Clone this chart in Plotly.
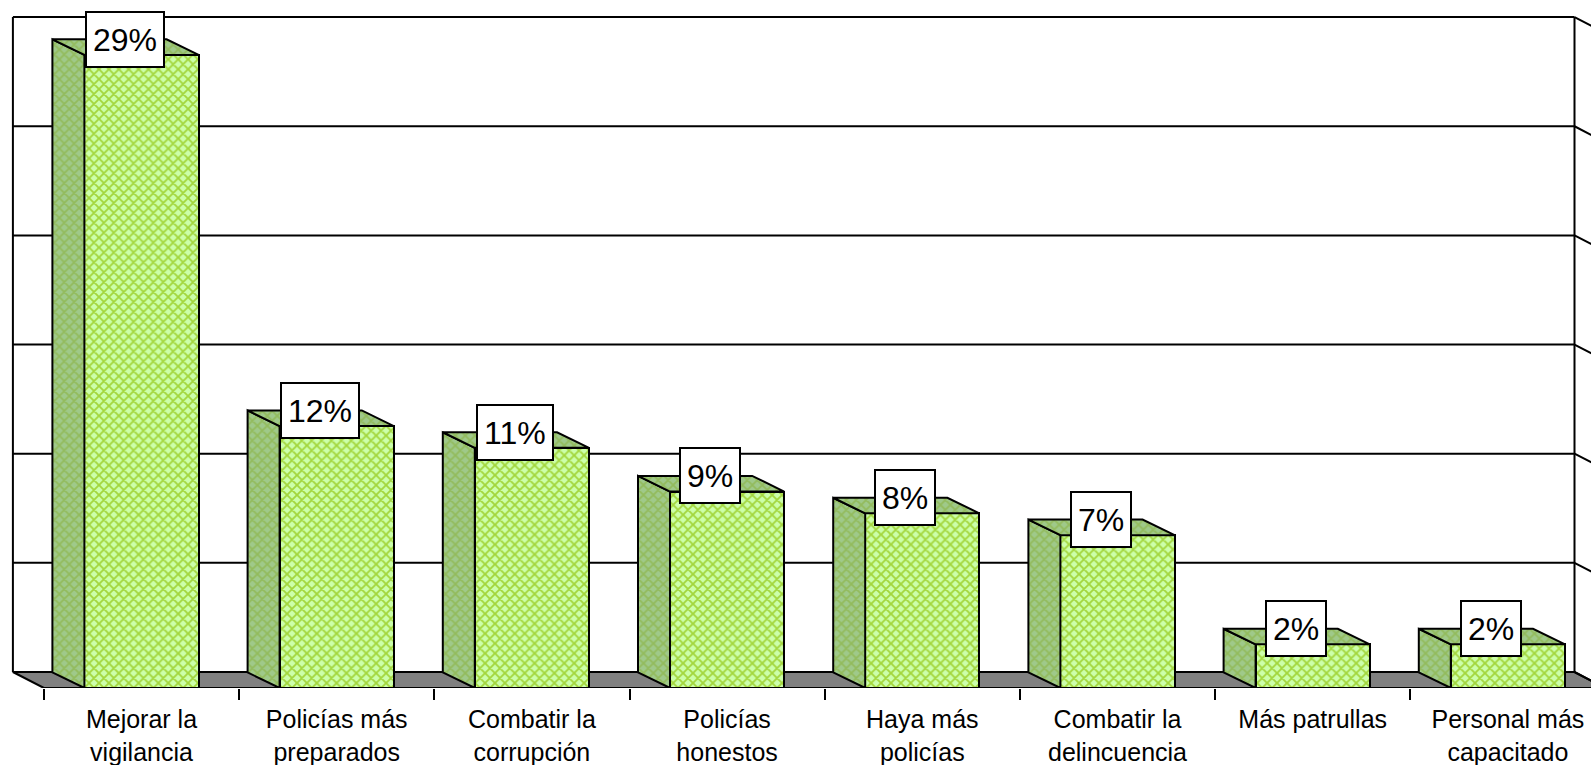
import plotly.graph_objects as go

categories = ["Mejorar la<br>vigilancia", "Policías más<br>preparados", "Combatir la<br>corrupción",
              "Policías<br>honestos", "Haya más<br>policías", "Combatir la<br>delincuencia",
              "Más patrullas<br> ", "Personal más<br>capacitado"]
values = [29, 12, 11, 9, 8, 7, 2, 2]
grid_values = [0, 5, 10, 15, 20, 25, 30]

PX_X = 195.2
PX_Y = 21.83
X0 = 141.5
Y0 = 688
W, H = 1591, 765
BAR_W = 0.585
BAR_DX = 32 / PX_X
BAR_DY = 15.6 / PX_Y
WALL_DX = 31 / PX_X
WALL_DY = 16 / PX_Y
LEFT = -0.5
RIGHT = 7.5

xrange_ = [(0 - X0) / PX_X, (W - X0) / PX_X]
yrange_ = [0, Y0 / PX_Y]
positions = list(range(len(values)))

DARK = dict(bgcolor="#9FC98A", fgcolor="#86AD2E", shape="x", size=7, solidity=0.45)

fig = go.Figure()

fig.add_bar(x=positions, y=values, width=BAR_W,
            marker=dict(color="#CCFFAA", line=dict(color="black", width=2),
                        pattern=dict(shape="x", size=7, solidity=0.45, fgcolor="#A3D63C",
                                     bgcolor="#CCFFAA", fillmode="replace")),
            hoverinfo="skip", showlegend=False)

for p, v in zip(positions, values):
    l, r = p - BAR_W / 2, p + BAR_W / 2
    fig.add_scatter(x=[l, l - BAR_DX, l - BAR_DX, l, l], y=[0, BAR_DY, v + BAR_DY, v, 0],
                    mode="lines", fill="toself", fillcolor="#9FC98A",
                    fillpattern=DARK, line=dict(color="black", width=2),
                    hoverinfo="skip", showlegend=False)
    fig.add_scatter(x=[l, l - BAR_DX, r - BAR_DX, r, l], y=[v, v + BAR_DY, v + BAR_DY, v, v],
                    mode="lines", fill="toself", fillcolor="#9FC98A",
                    fillpattern=DARK, line=dict(color="black", width=2),
                    hoverinfo="skip", showlegend=False)

# front edge of the floor
fig.add_scatter(x=[LEFT, xrange_[1]], y=[0, 0], mode="lines", cliponaxis=False,
                line=dict(color="black", width=2), hoverinfo="skip", showlegend=False)

shapes = []
bl, br = LEFT - WALL_DX, RIGHT - WALL_DX
# floor
shapes.append(dict(type="path", xref="x", yref="y", layer="below",
                   path=f"M {bl} {WALL_DY} L {br} {WALL_DY} L {RIGHT} 0 L {LEFT} 0 Z",
                   fillcolor="#808080", line=dict(color="black", width=2)))
# gridlines on the back wall and right wall
for g in grid_values:
    gy = g + WALL_DY
    shapes.append(dict(type="line", xref="x", yref="y", layer="below", x0=bl, x1=br, y0=gy, y1=gy,
                       line=dict(color="black", width=2)))
    shapes.append(dict(type="line", xref="x", yref="y", layer="below", x0=br, x1=RIGHT, y0=gy, y1=g,
                       line=dict(color="black", width=2)))
for wx in (bl, br):
    shapes.append(dict(type="line", xref="x", yref="y", layer="below", x0=wx, x1=wx,
                       y0=WALL_DY, y1=grid_values[-1] + WALL_DY, line=dict(color="black", width=2)))

annotations = [dict(x=p - BAR_DX / 2 - 1 / PX_X, y=v + BAR_DY, text=f"{v}%", showarrow=False,
                    bgcolor="white", bordercolor="black", borderwidth=2, borderpad=6,
                    height=41, valign="middle",
                    font=dict(family="Liberation Sans", size=32, color="black"),
                    xanchor="center", yanchor="middle")
               for p, v in zip(positions, values)]

fig.update_layout(
    width=W, height=H, margin=dict(l=0, r=0, t=0, b=H - Y0, autoexpand=False), autosize=False,
    paper_bgcolor="white", plot_bgcolor="white", bargap=0,
    shapes=shapes, annotations=annotations, showlegend=False,
    font=dict(family="Liberation Sans", size=25, color="black"),
    xaxis=dict(range=xrange_, tickmode="array", tickvals=positions, ticktext=categories,
               ticks="", showgrid=False, zeroline=False, showline=False,
               automargin=False,
               tickfont=dict(size=25, family="Liberation Sans", color="black"),
               ticklabelstandoff=14, anchor="y",
               minor=dict(tickmode="array", tickvals=[i - 0.5 for i in positions],
                          ticks="outside", ticklen=11, tickwidth=2, tickcolor="black", showgrid=False)),
    yaxis=dict(range=yrange_, visible=False, showgrid=False, zeroline=False),
)
fig.write_html("out.html", config={"displayModeBar": False},
               post_script="document.body.style.margin='0';document.body.style.overflow='hidden';")
